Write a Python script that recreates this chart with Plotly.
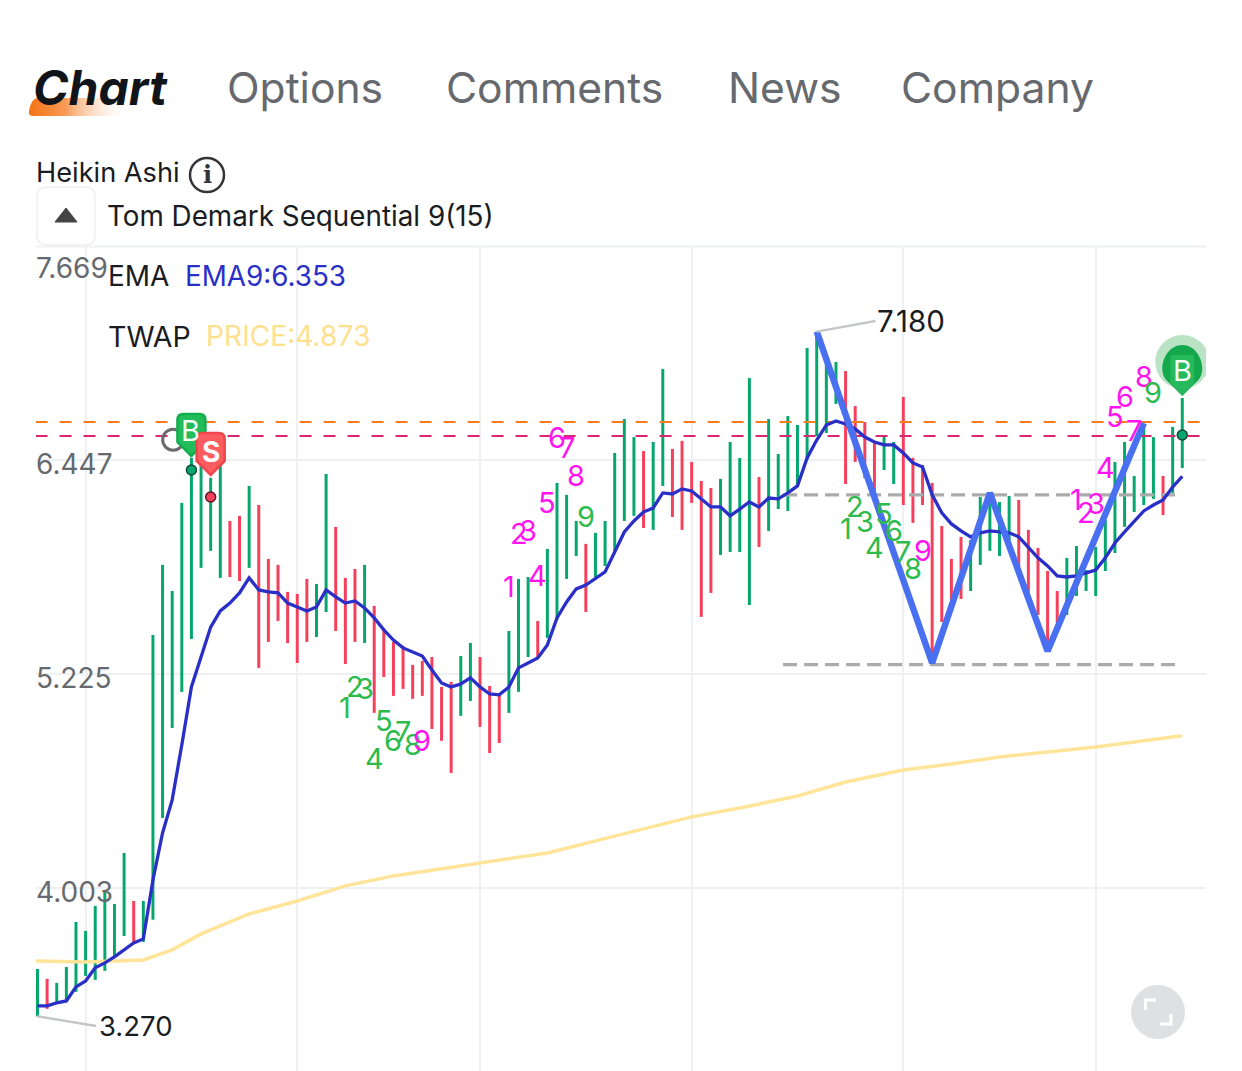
import base64
import plotly.graph_objects as go

W, H = 1242, 1071
FONT = "Inter"

# ---------- data ----------
bar_index = list(range(120))
bar_high = [3.541,3.484,3.461,3.552,3.809,3.758,3.901,3.992,3.912,4.203,3.929,3.929,5.448,5.848,5.699,6.202,6.459,6.447,6.345,6.419,
            6.099,6.128,6.299,6.190,5.882,5.848,5.694,5.682,5.768,5.739,6.367,6.065,5.774,5.825,5.848,5.614,5.483,5.408,5.385,5.277,
            5.300,5.322,5.151,5.180,5.328,5.402,5.322,5.157,5.106,5.471,5.768,5.779,5.528,5.939,6.316,6.248,6.099,5.968,6.031,6.099,
            6.487,6.681,6.578,6.498,6.550,6.967,6.510,6.556,6.436,6.327,6.287,6.339,6.550,6.459,6.915,6.350,6.681,6.481,6.698,6.647,
            7.087,7.180,7.035,7.007,6.955,6.755,6.664,6.544,6.584,6.550,6.807,6.459,6.419,6.316,6.070,5.882,6.008,5.990,6.236,6.259,
            6.207,6.242,6.219,6.048,5.945,5.813,5.699,5.888,5.956,5.819,5.950,6.105,6.436,6.550,6.356,6.647,6.578,6.356,6.636,6.801]
bar_low = [3.270,3.313,3.353,3.353,3.410,3.501,3.478,3.530,3.610,3.729,3.689,3.695,3.821,4.403,4.917,5.123,5.425,5.831,5.928,5.774,
           5.779,5.756,5.831,5.260,5.408,5.528,5.402,5.288,5.408,5.436,5.579,5.471,5.282,5.408,5.402,5.003,5.208,5.100,5.140,5.083,
           5.100,4.911,4.843,4.660,4.986,5.071,4.923,4.774,4.831,5.003,5.123,5.322,5.317,5.431,5.534,5.768,5.899,5.579,5.774,5.842,
           5.922,6.099,6.128,6.059,6.048,6.299,6.122,6.048,6.202,5.551,5.688,5.905,5.922,5.922,5.619,5.950,6.042,6.167,6.156,6.293,
           6.447,6.584,6.601,6.767,6.310,6.436,6.344,6.259,6.390,6.310,6.190,6.088,6.190,5.288,5.522,5.648,5.653,5.699,5.848,5.928,
           5.899,5.990,5.836,5.688,5.562,5.379,5.516,5.562,5.670,5.699,5.670,5.813,5.916,6.065,6.150,6.190,6.225,6.133,6.259,6.401]
bar_dir = ("GRGGGGGGGGRGGGGGGGGG" "RRGRRRRRRGGRRRGRRRRR" "RRRRGGRRRGGGRGGGGRGG"
           "GGGRGGRRRRRGGGGRGGGG" "GGGGRRRRGGRRRRRRRGGG" "GGRRRRRGGGGGGGGGGRGG")
ema9 = [3.330,3.330,3.347,3.358,3.438,3.472,3.547,3.575,3.610,3.650,3.689,3.712,4.049,4.317,4.506,4.820,5.151,5.322,5.493,5.585,
        5.630,5.688,5.774,5.705,5.694,5.688,5.630,5.608,5.585,5.608,5.705,5.665,5.630,5.642,5.602,5.545,5.477,5.419,5.374,5.351,
        5.328,5.248,5.174,5.151,5.168,5.203,5.151,5.111,5.106,5.151,5.260,5.288,5.317,5.391,5.545,5.636,5.711,5.733,5.768,5.808,
        5.922,6.036,6.099,6.150,6.173,6.259,6.253,6.282,6.270,6.225,6.179,6.179,6.128,6.167,6.207,6.179,6.230,6.225,6.259,6.299,
        6.459,6.561,6.647,6.670,6.653,6.624,6.578,6.550,6.533,6.533,6.487,6.430,6.407,6.248,6.145,6.082,6.042,6.008,6.031,6.042,
        6.036,6.031,6.008,5.950,5.888,5.842,5.785,5.779,5.785,5.802,5.819,5.888,5.973,6.036,6.093,6.156,6.190,6.219,6.293,6.353]
twap_index = [-0.2,5,11,14,17,22,27,32,37,42,48,53,58,63,68,73,79,84,90,95,100,105,110,119]
twap_price = [3.586,3.581,3.592,3.650,3.741,3.855,3.929,4.015,4.072,4.112,4.163,4.203,4.272,4.340,4.409,4.460,4.528,4.608,4.677,4.711,4.751,4.780,4.808,4.873]
wave_index = [81,93,99,105,115]
wave_price = [7.180,5.288,6.259,5.356,6.658]
neck_index = [77.5,118.4]
neck_high = 6.248
neck_low = 5.278
orange_level = 6.664
pink_level = 6.584
level_span = [-0.2,120.8]
y_ticks = [7.669,6.447,5.225,4.003]
y_labels = ["7.669","6.447","5.225","4.003"]
x_grid = [5,27,46,68,90,110]

td_digits = list("123456789")
td_a_start, td_a_y = 32, [5.031,5.151,5.145,4.745,4.957,4.843,4.894,4.820,4.848]
td_b_start, td_b_y = 49, [5.722,6.030,6.042,5.785,6.202,6.578,6.516,6.361,6.127]
td_c_start, td_c_y = 84, [6.053,6.179,6.093,5.950,6.144,6.047,5.927,5.830,5.933]
td_d_start, td_d_y = 108, [6.219,6.150,6.201,6.407,6.698,6.807,6.618,6.921,6.835]

tabs = ["Options","Comments","News","Company"]
tab_x = [227,446,728,901]

# ---------- colours ----------
GREEN, RED = "#05A76C", "#F5405C"
TD_G, TD_M = "#2DBB4E", "#FF14F0"
GRID = "#EEF0F2"

X0, X1 = 36, 1206
PX = 9.62
BAR0 = 37.5
TOP, BOT = 246, 1071
SCALE = 175.12

def xp(px): return px / W
def yp(py): return 1 - py / H

fig = go.Figure()
fig.add_trace(go.Bar(x=bar_index, y=[h-l for h,l in zip(bar_high,bar_low)], base=bar_low, width=0.31,
                     marker=dict(color=[GREEN if d=="G" else RED for d in bar_dir], line=dict(width=0)), name="Heikin Ashi"))
fig.add_trace(go.Scatter(x=twap_index, y=twap_price, mode="lines", line=dict(color="#FFE49A", width=3.5), name="TWAP"))
for lvl, col in ((orange_level,"#F57C1F"),(pink_level,"#D8276F")):
    fig.add_trace(go.Scatter(x=level_span, y=[lvl,lvl], mode="lines", line=dict(color=col, width=2.2, dash="12px,12px")))
for lvl in (neck_high, neck_low):
    fig.add_trace(go.Scatter(x=neck_index, y=[lvl,lvl], mode="lines", line=dict(color="#ABABAB", width=3.2, dash="14px,7px")))
fig.add_trace(go.Scatter(x=bar_index, y=ema9, mode="lines", line=dict(color="#2A2FC8", width=3.3), name="EMA9"))
fig.add_trace(go.Scatter(x=wave_index, y=wave_price, mode="lines", line=dict(color="#4A70F2", width=6.5), name="W"))
# leader lines of extreme labels
fig.add_trace(go.Scatter(x=[81,87.1], y=[7.180,7.241], mode="lines", line=dict(color="#C4C6C8", width=2.5)))
fig.add_trace(go.Scatter(x=[0,6.1], y=[3.270,3.215], mode="lines", line=dict(color="#C4C6C8", width=2.5)))
# signal dots
fig.add_trace(go.Scatter(x=[16,119], y=[6.390,6.590], mode="markers",
                         marker=dict(color=GREEN, size=10, line=dict(color="#16453A", width=1.5))))
fig.add_trace(go.Scatter(x=[18], y=[6.236], mode="markers",
                         marker=dict(color=RED, size=10, line=dict(color="#5B1528", width=1.5))))

shapes, ann = [], []

def text(s, x, y, size, color, anchor="left", weight=None, style=None):
    f = dict(family=FONT, size=size, color=color)
    if weight: f["weight"] = weight
    if style: f["style"] = style
    ann.append(dict(text=s, xref="paper", yref="paper", x=xp(x), y=yp(y), xanchor=anchor, yanchor="middle",
                    showarrow=False, font=f, borderpad=0, borderwidth=0))

def dtext(s, i, price, size, color, weight=None):
    f = dict(family=FONT, size=size, color=color)
    if weight: f["weight"] = weight
    ann.append(dict(text=s, xref="x", yref="y", x=i, y=price, xanchor="center", yanchor="middle",
                    showarrow=False, font=f, borderpad=0, borderwidth=0))

# tabs
text("Chart", 33, 87, 48, "#111418", weight=700, style="italic")
for s, x in zip(tabs, tab_x):
    text(s, x, 87, 42.6, "#66696E")

# rows of the header
text("Heikin Ashi", 36, 172.5, 27.2, "#1A1C1F")
text("Tom Demark Sequential 9(15)", 107, 216.5, 27.8, "#1A1C1F")
text("EMA", 108, 276, 28, "#1A1C1F")
text("EMA9:6.353", 185, 276, 27.8, "#2A2FC8")
text("TWAP", 108, 336, 28.5, "#1A1C1F")
text("PRICE:4.873", 206, 336, 28.2, "#FFE08F")
for lbl, py in zip(y_labels, [267.5,464,678,892]):
    text(lbl, 36, py, 28, "#66696E")
text("7.180", 877, 321, 29.5, "#1A1C1F")
text("3.270", 99, 1026, 27.5, "#1A1C1F")

# info icon
shapes.append(dict(type="circle", xref="paper", yref="paper", x0=xp(190), x1=xp(224), y0=yp(192), y1=yp(158),
                   line=dict(color="#333538", width=2.5), fillcolor="rgba(0,0,0,0)"))
ann.append(dict(text="i", xref="paper", yref="paper", x=xp(207), y=yp(175), xanchor="center", yanchor="middle", showarrow=False,
                font=dict(family="DejaVu Serif", size=24, color="#333538", weight=700)))

# top edge of the chart
shapes.append(dict(type="line", xref="paper", yref="paper", x0=xp(X0), x1=xp(X1), y0=yp(TOP+0.5), y1=yp(TOP+0.5),
                   line=dict(color=GRID, width=2)))

# collapse button
def rrect(x0,y0,x1,y1,r):
    return (f"M {xp(x0+r)} {yp(y0)} L {xp(x1-r)} {yp(y0)} Q {xp(x1)} {yp(y0)} {xp(x1)} {yp(y0+r)} "
            f"L {xp(x1)} {yp(y1-r)} Q {xp(x1)} {yp(y1)} {xp(x1-r)} {yp(y1)} L {xp(x0+r)} {yp(y1)} "
            f"Q {xp(x0)} {yp(y1)} {xp(x0)} {yp(y1-r)} L {xp(x0)} {yp(y0+r)} Q {xp(x0)} {yp(y0)} {xp(x0+r)} {yp(y0)} Z")
shapes.append(dict(type="path", xref="paper", yref="paper", path=rrect(37,187,95,245,10),
                   line=dict(color="#EFEFEF", width=1.5), fillcolor="#FFFFFF"))
shapes.append(dict(type="path", xref="paper", yref="paper",
                   path=f"M {xp(55)} {yp(222)} L {xp(66)} {yp(208)} L {xp(77)} {yp(222)} Z",
                   line=dict(color="#444", width=1), fillcolor="#444"))

# fullscreen button
shapes.append(dict(type="circle", xref="paper", yref="paper", x0=xp(1131), x1=xp(1185), y0=yp(1039), y1=yp(985),
                   line=dict(width=0), fillcolor="#DFE0E1"))
shapes.append(dict(type="path", xref="paper", yref="paper",
                   path=f"M {xp(1145.5)} {yp(1010)} L {xp(1145.5)} {yp(1000)} L {xp(1156)} {yp(1000)}",
                   line=dict(color="#FFFFFF", width=3), fillcolor="rgba(0,0,0,0)"))
shapes.append(dict(type="path", xref="paper", yref="paper",
                   path=f"M {xp(1160)} {yp(1024)} L {xp(1171)} {yp(1024)} L {xp(1171)} {yp(1014)}",
                   line=dict(color="#FFFFFF", width=3), fillcolor="rgba(0,0,0,0)"))

# flags
def anchored(path, i, price, fill, line=None, lw=0):
    shapes.append(dict(type="path", xref="x", yref="y", xsizemode="pixel", ysizemode="pixel", xanchor=i, yanchor=price,
                       path=path, fillcolor=fill, line=dict(color=line or fill, width=lw), layer="above"))

def flag(i, price, fill, edge):
    p = "M 0 1 L -14 15 L -14 37 Q -14 43 -8 43 L 8 43 Q 14 43 14 37 L 14 15 Z"
    anchored(p, i, price, fill, edge, 2.5)

# ring behind the B flag
shapes.append(dict(type="circle", xref="x", yref="y", xsizemode="pixel", ysizemode="pixel", xanchor=14.1, yanchor=6.563,
                   x0=-10.5, x1=10.5, y0=-10.5, y1=10.5, line=dict(color="#6A6A6E", width=3), fillcolor="rgba(0,0,0,0)"))
flag(16, 6.464, "#22BC5B", "#12AE4E")
dtext("B", 15.95, 6.613, 29, "#F4FFF6")
flag(18, 6.356, "#FB5C60", "#F0454B")
dtext("S", 18, 6.490, 28, "#FFFFFF", 700)

# last buy pin with halo
shapes.append(dict(type="circle", xref="x", yref="y", xsizemode="pixel", ysizemode="pixel", xanchor=119, yanchor=7.007,
                   x0=-27, x1=27, y0=-27, y1=27, line=dict(width=0), fillcolor="#B9E3C4"))
anchored("M 0 0 L -15 15 C -26 24 -18 51 0 51 C 18 51 26 24 15 15 Z", 119, 6.813, "#12A84B")
anchored("M 0 1 L -12 13 L -12 38 Q -12 41 -9 41 L 9 41 Q 12 41 12 38 L 12 13 Z", 119, 6.813, "#26BA5C")
dtext("B", 119, 6.958, 29, "#F4FFF6")

# TD sequential digits
groups = [(td_a_start, td_a_y, TD_G, TD_M), (td_b_start, td_b_y, TD_M, TD_G),
          (td_c_start, td_c_y, TD_G, TD_M), (td_d_start, td_d_y, TD_M, TD_G)]
for start, ys, c1, c2 in groups:
    for k, (d, price) in enumerate(zip(td_digits, ys)):
        dtext(d, start + k, price, 29, c2 if k == 8 else c1)

# gradient under "Chart"
svg = ('<svg xmlns="http://www.w3.org/2000/svg" width="106" height="18"><defs><linearGradient id="g" x1="0" x2="1" y1="0" y2="0">'
       '<stop offset="0" stop-color="#F47316"/><stop offset="0.35" stop-color="#F79A55"/><stop offset="1" stop-color="#FFFFFF" stop-opacity="0"/>'
       '</linearGradient></defs><path d="M10 0 L104 0 L102 18 L5 18 Q0 18 1 13 Q3 0 10 0 Z" fill="url(#g)"/></svg>')
uri = "data:image/svg+xml;base64," + base64.b64encode(svg.encode()).decode()

fig.update_layout(
    width=W, height=H, margin=dict(l=0, r=0, t=0, b=0), paper_bgcolor="#FFFFFF", plot_bgcolor="#FFFFFF",
    showlegend=False, hovermode=False, barmode="overlay", shapes=shapes, annotations=ann,
    images=[dict(source=uri, xref="paper", yref="paper", x=xp(28), y=yp(98), sizex=106/W, sizey=18/H,
                 sizing="stretch", xanchor="left", yanchor="top", layer="below")],
    xaxis=dict(domain=[xp(X0), xp(X1)], range=[(X0-BAR0)/PX, (X1-BAR0)/PX], tickvals=x_grid, showticklabels=False,
               showgrid=True, gridcolor=GRID, gridwidth=2, zeroline=False, ticks="", showline=False, fixedrange=True),
    yaxis=dict(domain=[0, yp(TOP)], range=[7.669-(BOT-TOP)/SCALE, 7.669], tickvals=y_ticks, showticklabels=False,
               showgrid=True, gridcolor=GRID, gridwidth=2, zeroline=False, ticks="", showline=False, fixedrange=True),
)
fig.write_html("out.html", config=dict(displayModeBar=False), post_script="document.body.style.margin='0';")
